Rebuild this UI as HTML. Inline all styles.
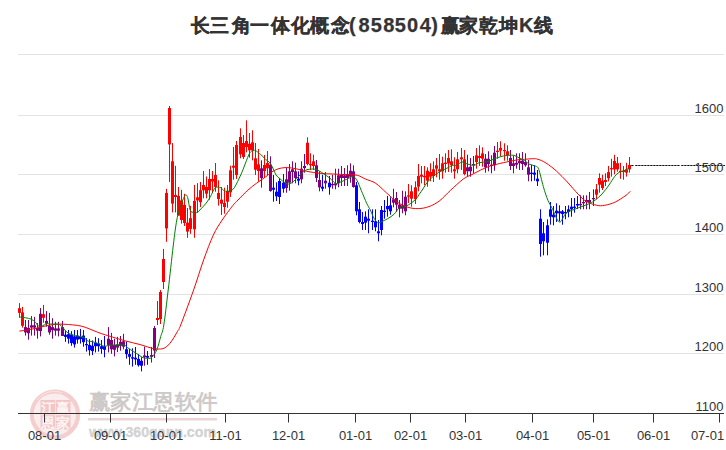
<!DOCTYPE html>
<html><head><meta charset="utf-8"><style>
html,body{margin:0;padding:0;background:#fff;width:726px;height:450px;overflow:hidden;position:relative;font-family:"Liberation Sans",sans-serif}
.tg{position:absolute;top:12.5px;line-height:26px;font-weight:bold;color:#333;white-space:nowrap}.c{font-size:19px;-webkit-text-stroke:0.3px #333}.l{font-size:20px;top:11.6px;-webkit-text-stroke:0.25px #333}
</style></head><body>
<svg width="726" height="450" viewBox="0 0 726 450" style="position:absolute;left:0;top:0"><rect x="18" y="54" width="706" height="1" fill="#e3e3e3"/><rect x="18" y="115" width="706" height="1" fill="#e3e3e3"/><rect x="18" y="174" width="706" height="1" fill="#e3e3e3"/><rect x="18" y="234" width="706" height="1" fill="#e3e3e3"/><rect x="18" y="294" width="706" height="1" fill="#e3e3e3"/><rect x="18" y="353" width="706" height="1" fill="#e3e3e3"/><g>
<circle cx="55" cy="414.5" r="25" fill="#fbeded"/>
<circle cx="55" cy="414.5" r="23" fill="none" stroke="#f4cdcd" stroke-width="4.2"/>
<path d="M37,400 A22,22 0 0 1 62,392.5" fill="none" stroke="#fbeaea" stroke-width="0.8"/>
<path d="M35,420 A20.5,20.5 0 0 1 45,396" fill="none" stroke="#fdf3f3" stroke-width="0.8"/>
<rect x="40.5" y="400" width="30" height="29.5" fill="#f1c6c6"/>
<rect x="55" y="400" width="1" height="29.5" fill="#f8e2e2"/>
<rect x="40.5" y="414.3" width="30" height="1" fill="#f8e2e2"/>
<g font-family="Liberation Sans, sans-serif" font-weight="bold" font-size="14" fill="#fdf3f3" text-anchor="middle">
<text x="47.8" y="412.5">江</text><text x="63" y="412.5">赢</text>
<text x="47.8" y="427.8">恩</text><text x="63" y="427.8">家</text></g>
<text x="88.5" y="409" font-size="21" font-weight="normal" fill="#cdc8c8" stroke="#cdc8c8" stroke-width="0.7" font-family="Liberation Sans, sans-serif" textLength="129" lengthAdjust="spacingAndGlyphs">赢家江恩软件</text>
<rect x="88" y="418" width="129" height="2.5" fill="#ecd4d4"/>
<text x="89" y="436.5" font-size="15.5" font-weight="bold" fill="#d2d2d2" stroke="#d2d2d2" stroke-width="0.3" font-family="Liberation Sans, sans-serif" textLength="127" lengthAdjust="spacingAndGlyphs">www.360gann.com</text>
</g><rect x="19" y="303.1" width="1" height="14.7" fill="#ff0000"/><rect x="18" y="308.2" width="3" height="4.7" fill="#ff0000"/><rect x="22" y="306.9" width="1" height="20.7" fill="#ff0000"/><rect x="21" y="312.3" width="3" height="13.5" fill="#ff0000"/><rect x="25" y="320.0" width="1" height="15.6" fill="#800080"/><rect x="24" y="327.1" width="3" height="5.3" fill="#800080"/><rect x="28" y="320.0" width="1" height="19.7" fill="#800080"/><rect x="27" y="328.0" width="3" height="5.3" fill="#800080"/><rect x="31" y="316.0" width="1" height="19.6" fill="#800080"/><rect x="30" y="325.3" width="3" height="2.3" fill="#800080"/><rect x="34" y="316.9" width="1" height="18.7" fill="#800080"/><rect x="33" y="325.3" width="3" height="2.3" fill="#800080"/><rect x="37" y="323.1" width="1" height="15.6" fill="#800080"/><rect x="36" y="328.0" width="3" height="2.7" fill="#800080"/><rect x="40" y="308.0" width="1" height="28.4" fill="#800080"/><rect x="39" y="313.8" width="3" height="17.3" fill="#800080"/><rect x="43" y="304.9" width="1" height="17.8" fill="#ff0000"/><rect x="42" y="314.2" width="3" height="3.6" fill="#ff0000"/><rect x="46" y="311.1" width="1" height="15.6" fill="#800080"/><rect x="45" y="320.9" width="3" height="2.7" fill="#800080"/><rect x="49" y="312.9" width="1" height="21.8" fill="#800080"/><rect x="48" y="325.8" width="3" height="6.6" fill="#800080"/><rect x="52" y="318.2" width="1" height="20.5" fill="#800080"/><rect x="51" y="327.1" width="3" height="3.1" fill="#800080"/><rect x="55" y="321.8" width="1" height="13.8" fill="#800080"/><rect x="54" y="328.4" width="3" height="2.3" fill="#800080"/><rect x="58" y="321.8" width="1" height="14.6" fill="#800080"/><rect x="57" y="328.4" width="3" height="2.3" fill="#800080"/><rect x="62" y="320.9" width="1" height="15.1" fill="#800080"/><rect x="61" y="327.1" width="3" height="8.9" fill="#800080"/><rect x="65" y="330.7" width="1" height="11.1" fill="#0000ff"/><rect x="64" y="334.7" width="3" height="2.2" fill="#0000ff"/><rect x="68" y="330.0" width="1" height="13.6" fill="#0000ff"/><rect x="67" y="334.2" width="3" height="4.5" fill="#0000ff"/><rect x="71" y="331.1" width="1" height="14.7" fill="#0000ff"/><rect x="70" y="334.7" width="3" height="8.4" fill="#0000ff"/><rect x="74" y="330.0" width="1" height="17.6" fill="#0000ff"/><rect x="73" y="336.4" width="3" height="8.0" fill="#0000ff"/><rect x="77" y="330.0" width="1" height="13.6" fill="#0000ff"/><rect x="76" y="335.6" width="3" height="4.0" fill="#0000ff"/><rect x="80" y="328.9" width="1" height="14.7" fill="#0000ff"/><rect x="79" y="336.9" width="3" height="2.2" fill="#0000ff"/><rect x="83" y="330.0" width="1" height="16.7" fill="#0000ff"/><rect x="82" y="335.6" width="3" height="6.6" fill="#0000ff"/><rect x="86" y="338.2" width="1" height="13.4" fill="#0000ff"/><rect x="85" y="344.0" width="3" height="1.3" fill="#0000ff"/><rect x="89" y="339.1" width="1" height="16.5" fill="#0000ff"/><rect x="88" y="344.9" width="3" height="5.3" fill="#0000ff"/><rect x="92" y="340.4" width="1" height="14.7" fill="#0000ff"/><rect x="91" y="345.8" width="3" height="5.3" fill="#0000ff"/><rect x="95" y="336.9" width="1" height="15.5" fill="#0000ff"/><rect x="94" y="342.7" width="3" height="3.5" fill="#0000ff"/><rect x="98" y="338.2" width="1" height="13.4" fill="#0000ff"/><rect x="97" y="343.6" width="3" height="2.6" fill="#0000ff"/><rect x="101" y="340.0" width="1" height="13.8" fill="#0000ff"/><rect x="100" y="346.2" width="3" height="2.7" fill="#0000ff"/><rect x="104" y="336.0" width="1" height="21.3" fill="#0000ff"/><rect x="103" y="346.2" width="3" height="3.6" fill="#0000ff"/><rect x="108" y="327.1" width="1" height="25.3" fill="#800080"/><rect x="107" y="338.7" width="3" height="6.2" fill="#800080"/><rect x="111" y="332.9" width="1" height="20.9" fill="#800080"/><rect x="110" y="340.0" width="3" height="9.3" fill="#800080"/><rect x="114" y="338.7" width="1" height="17.7" fill="#800080"/><rect x="113" y="344.9" width="3" height="4.9" fill="#800080"/><rect x="117" y="336.9" width="1" height="15.1" fill="#800080"/><rect x="116" y="344.4" width="3" height="3.2" fill="#800080"/><rect x="120" y="336.0" width="1" height="14.7" fill="#800080"/><rect x="119" y="341.8" width="3" height="4.0" fill="#800080"/><rect x="123" y="333.8" width="1" height="15.5" fill="#800080"/><rect x="122" y="341.3" width="3" height="5.4" fill="#800080"/><rect x="126" y="341.7" width="1" height="16.9" fill="#0000ff"/><rect x="125" y="349.2" width="3" height="4.9" fill="#0000ff"/><rect x="129" y="348.8" width="1" height="16.0" fill="#0000ff"/><rect x="128" y="354.1" width="3" height="2.7" fill="#0000ff"/><rect x="132" y="348.3" width="1" height="18.3" fill="#0000ff"/><rect x="131" y="357.2" width="3" height="1.4" fill="#0000ff"/><rect x="135" y="347.0" width="1" height="17.8" fill="#0000ff"/><rect x="134" y="357.7" width="3" height="1.7" fill="#0000ff"/><rect x="138" y="354.1" width="1" height="12.5" fill="#0000ff"/><rect x="137" y="359.0" width="3" height="6.2" fill="#0000ff"/><rect x="141" y="357.2" width="1" height="14.2" fill="#0000ff"/><rect x="140" y="360.8" width="3" height="4.9" fill="#0000ff"/><rect x="144" y="346.6" width="1" height="19.1" fill="#800080"/><rect x="143" y="355.4" width="3" height="1.8" fill="#800080"/><rect x="147" y="351.0" width="1" height="13.8" fill="#0000ff"/><rect x="146" y="355.9" width="3" height="1.8" fill="#0000ff"/><rect x="151" y="347.0" width="1" height="15.6" fill="#800080"/><rect x="150" y="355.0" width="3" height="1.8" fill="#800080"/><rect x="154" y="326.0" width="1" height="32.0" fill="#800080"/><rect x="153" y="328.0" width="3" height="22.6" fill="#800080"/><rect x="157" y="301.0" width="1" height="24.0" fill="#ff0000"/><rect x="156" y="318.0" width="3" height="2.0" fill="#ff0000"/><rect x="160" y="290.0" width="1" height="34.0" fill="#ff0000"/><rect x="159" y="292.0" width="3" height="27.0" fill="#ff0000"/><rect x="163" y="248.9" width="1" height="40.1" fill="#ff0000"/><rect x="162" y="259.0" width="3" height="23.0" fill="#ff0000"/><rect x="166" y="188.9" width="1" height="52.9" fill="#ff0000"/><rect x="165" y="192.9" width="3" height="35.5" fill="#ff0000"/><rect x="169" y="106.0" width="1" height="76.0" fill="#ff0000"/><rect x="168" y="108.0" width="3" height="36.4" fill="#ff0000"/><rect x="172" y="143.1" width="1" height="69.3" fill="#ff0000"/><rect x="171" y="161.3" width="3" height="42.3" fill="#ff0000"/><rect x="175" y="165.8" width="1" height="46.6" fill="#ff0000"/><rect x="174" y="195.0" width="3" height="2.0" fill="#ff0000"/><rect x="178" y="187.0" width="1" height="28.6" fill="#ff0000"/><rect x="177" y="196.0" width="3" height="19.6" fill="#ff0000"/><rect x="181" y="189.8" width="1" height="33.8" fill="#ff0000"/><rect x="180" y="200.4" width="3" height="19.6" fill="#ff0000"/><rect x="184" y="193.8" width="1" height="32.2" fill="#ff0000"/><rect x="183" y="205.0" width="3" height="18.0" fill="#ff0000"/><rect x="187" y="208.0" width="1" height="29.8" fill="#ff0000"/><rect x="186" y="222.7" width="3" height="8.9" fill="#ff0000"/><rect x="190" y="205.8" width="1" height="28.0" fill="#ff0000"/><rect x="189" y="218.2" width="3" height="10.7" fill="#ff0000"/><rect x="194" y="184.9" width="1" height="52.9" fill="#ff0000"/><rect x="193" y="200.9" width="3" height="28.4" fill="#ff0000"/><rect x="197" y="183.1" width="1" height="29.8" fill="#ff0000"/><rect x="196" y="197.3" width="3" height="3.1" fill="#ff0000"/><rect x="200" y="182.0" width="1" height="25.1" fill="#ff0000"/><rect x="199" y="190.2" width="3" height="12.0" fill="#ff0000"/><rect x="203" y="171.0" width="1" height="27.3" fill="#ff0000"/><rect x="202" y="185.0" width="3" height="5.3" fill="#ff0000"/><rect x="206" y="176.5" width="1" height="21.8" fill="#ff0000"/><rect x="205" y="187.0" width="3" height="6.7" fill="#ff0000"/><rect x="209" y="169.0" width="1" height="30.7" fill="#ff0000"/><rect x="208" y="179.0" width="3" height="11.3" fill="#ff0000"/><rect x="212" y="171.0" width="1" height="22.0" fill="#ff0000"/><rect x="211" y="179.0" width="3" height="2.5" fill="#ff0000"/><rect x="215" y="163.0" width="1" height="28.7" fill="#ff0000"/><rect x="214" y="175.0" width="3" height="12.0" fill="#ff0000"/><rect x="218" y="180.3" width="1" height="25.4" fill="#ff0000"/><rect x="217" y="193.0" width="3" height="6.0" fill="#ff0000"/><rect x="221" y="187.0" width="1" height="28.0" fill="#ff0000"/><rect x="220" y="199.7" width="3" height="4.0" fill="#ff0000"/><rect x="224" y="187.7" width="1" height="26.0" fill="#ff0000"/><rect x="223" y="203.0" width="3" height="4.0" fill="#ff0000"/><rect x="227" y="185.0" width="1" height="22.7" fill="#ff0000"/><rect x="226" y="191.0" width="3" height="10.7" fill="#ff0000"/><rect x="230" y="165.7" width="1" height="31.3" fill="#ff0000"/><rect x="229" y="170.3" width="3" height="22.0" fill="#ff0000"/><rect x="233" y="147.0" width="1" height="32.7" fill="#ff0000"/><rect x="232" y="165.7" width="3" height="2.0" fill="#ff0000"/><rect x="236" y="141.0" width="1" height="38.0" fill="#ff0000"/><rect x="235" y="145.0" width="3" height="30.0" fill="#ff0000"/><rect x="240" y="128.3" width="1" height="30.0" fill="#ff0000"/><rect x="239" y="137.0" width="3" height="17.3" fill="#ff0000"/><rect x="243" y="135.0" width="1" height="24.0" fill="#ff0000"/><rect x="242" y="143.0" width="3" height="14.0" fill="#ff0000"/><rect x="246" y="120.3" width="1" height="32.0" fill="#ff0000"/><rect x="245" y="141.0" width="3" height="6.0" fill="#ff0000"/><rect x="249" y="133.0" width="1" height="24.7" fill="#ff0000"/><rect x="248" y="143.7" width="3" height="6.6" fill="#ff0000"/><rect x="252" y="130.3" width="1" height="30.0" fill="#ff0000"/><rect x="251" y="142.3" width="3" height="8.0" fill="#ff0000"/><rect x="255" y="143.0" width="1" height="32.0" fill="#ff0000"/><rect x="254" y="158.3" width="3" height="11.4" fill="#ff0000"/><rect x="258" y="149.0" width="1" height="32.7" fill="#ff0000"/><rect x="257" y="164.3" width="3" height="6.7" fill="#ff0000"/><rect x="261" y="160.3" width="1" height="27.4" fill="#800080"/><rect x="260" y="168.3" width="3" height="9.7" fill="#800080"/><rect x="264" y="155.0" width="1" height="23.0" fill="#ff0000"/><rect x="263" y="165.0" width="3" height="6.0" fill="#ff0000"/><rect x="267" y="151.0" width="1" height="24.0" fill="#ff0000"/><rect x="266" y="163.0" width="3" height="5.3" fill="#ff0000"/><rect x="270" y="156.3" width="1" height="35.4" fill="#800080"/><rect x="269" y="164.7" width="3" height="26.3" fill="#800080"/><rect x="273" y="175.0" width="1" height="26.7" fill="#0000ff"/><rect x="272" y="187.7" width="3" height="2.0" fill="#0000ff"/><rect x="276" y="182.3" width="1" height="18.7" fill="#0000ff"/><rect x="275" y="191.7" width="3" height="4.6" fill="#0000ff"/><rect x="279" y="178.0" width="1" height="26.0" fill="#0000ff"/><rect x="278" y="181.0" width="3" height="16.0" fill="#0000ff"/><rect x="283" y="174.0" width="1" height="18.7" fill="#0000ff"/><rect x="282" y="182.7" width="3" height="6.0" fill="#0000ff"/><rect x="286" y="167.3" width="1" height="25.4" fill="#800080"/><rect x="285" y="179.3" width="3" height="8.7" fill="#800080"/><rect x="289" y="164.0" width="1" height="26.7" fill="#800080"/><rect x="288" y="171.3" width="3" height="11.4" fill="#800080"/><rect x="292" y="161.3" width="1" height="22.0" fill="#800080"/><rect x="291" y="169.3" width="3" height="2.7" fill="#800080"/><rect x="295" y="162.7" width="1" height="20.6" fill="#800080"/><rect x="294" y="171.3" width="3" height="6.7" fill="#800080"/><rect x="298" y="171.3" width="1" height="14.0" fill="#0000ff"/><rect x="297" y="178.7" width="3" height="2.0" fill="#0000ff"/><rect x="301" y="161.3" width="1" height="22.0" fill="#800080"/><rect x="300" y="168.7" width="3" height="10.6" fill="#800080"/><rect x="304" y="154.0" width="1" height="18.7" fill="#800080"/><rect x="303" y="166.0" width="3" height="2.0" fill="#800080"/><rect x="307" y="137.3" width="1" height="28.0" fill="#ff0000"/><rect x="306" y="142.7" width="3" height="21.3" fill="#ff0000"/><rect x="310" y="153.3" width="1" height="16.7" fill="#ff0000"/><rect x="309" y="164.0" width="3" height="1.3" fill="#ff0000"/><rect x="313" y="154.7" width="1" height="15.3" fill="#ff0000"/><rect x="312" y="161.3" width="3" height="4.7" fill="#ff0000"/><rect x="316" y="160.0" width="1" height="22.0" fill="#800080"/><rect x="315" y="165.3" width="3" height="12.7" fill="#800080"/><rect x="319" y="171.3" width="1" height="20.0" fill="#800080"/><rect x="318" y="180.0" width="3" height="7.3" fill="#800080"/><rect x="322" y="174.7" width="1" height="16.6" fill="#0000ff"/><rect x="321" y="186.7" width="3" height="2.0" fill="#0000ff"/><rect x="325" y="172.0" width="1" height="16.7" fill="#800080"/><rect x="324" y="180.7" width="3" height="2.6" fill="#800080"/><rect x="329" y="176.0" width="1" height="18.7" fill="#0000ff"/><rect x="328" y="182.7" width="3" height="4.6" fill="#0000ff"/><rect x="332" y="174.7" width="1" height="14.0" fill="#800080"/><rect x="331" y="184.0" width="3" height="1.3" fill="#800080"/><rect x="335" y="168.7" width="1" height="20.6" fill="#800080"/><rect x="334" y="183.3" width="3" height="2.0" fill="#800080"/><rect x="338" y="168.7" width="1" height="18.6" fill="#800080"/><rect x="337" y="175.3" width="3" height="8.0" fill="#800080"/><rect x="341" y="166.0" width="1" height="20.0" fill="#800080"/><rect x="340" y="174.7" width="3" height="3.3" fill="#800080"/><rect x="344" y="168.0" width="1" height="18.0" fill="#800080"/><rect x="343" y="175.3" width="3" height="2.7" fill="#800080"/><rect x="347" y="165.3" width="1" height="20.7" fill="#800080"/><rect x="346" y="174.0" width="3" height="4.0" fill="#800080"/><rect x="350" y="163.3" width="1" height="19.4" fill="#800080"/><rect x="349" y="170.7" width="3" height="6.0" fill="#800080"/><rect x="353" y="165.3" width="1" height="22.4" fill="#800080"/><rect x="352" y="171.3" width="3" height="15.7" fill="#800080"/><rect x="356" y="182.0" width="1" height="33.3" fill="#0000ff"/><rect x="355" y="185.3" width="3" height="26.0" fill="#0000ff"/><rect x="359" y="202.0" width="1" height="21.3" fill="#0000ff"/><rect x="358" y="209.3" width="3" height="12.7" fill="#0000ff"/><rect x="362" y="212.0" width="1" height="18.0" fill="#0000ff"/><rect x="361" y="222.0" width="3" height="2.0" fill="#0000ff"/><rect x="365" y="211.3" width="1" height="18.7" fill="#0000ff"/><rect x="364" y="216.7" width="3" height="6.0" fill="#0000ff"/><rect x="368" y="209.3" width="1" height="24.0" fill="#0000ff"/><rect x="367" y="218.7" width="3" height="2.0" fill="#0000ff"/><rect x="372" y="209.3" width="1" height="20.7" fill="#0000ff"/><rect x="371" y="220.7" width="3" height="1.3" fill="#0000ff"/><rect x="375" y="209.3" width="1" height="22.0" fill="#0000ff"/><rect x="374" y="221.3" width="3" height="6.0" fill="#0000ff"/><rect x="378" y="220.0" width="1" height="21.3" fill="#0000ff"/><rect x="377" y="231.3" width="3" height="2.0" fill="#0000ff"/><rect x="381" y="206.0" width="1" height="29.3" fill="#0000ff"/><rect x="380" y="210.0" width="3" height="20.0" fill="#0000ff"/><rect x="384" y="200.0" width="1" height="18.7" fill="#0000ff"/><rect x="383" y="210.7" width="3" height="1.3" fill="#0000ff"/><rect x="387" y="196.0" width="1" height="20.7" fill="#0000ff"/><rect x="386" y="206.0" width="3" height="3.3" fill="#0000ff"/><rect x="390" y="197.3" width="1" height="17.4" fill="#0000ff"/><rect x="389" y="205.3" width="3" height="6.0" fill="#0000ff"/><rect x="393" y="188.7" width="1" height="18.6" fill="#800080"/><rect x="392" y="199.3" width="3" height="3.4" fill="#800080"/><rect x="396" y="192.0" width="1" height="20.0" fill="#800080"/><rect x="395" y="198.0" width="3" height="6.7" fill="#800080"/><rect x="399" y="200.0" width="1" height="17.3" fill="#800080"/><rect x="398" y="204.7" width="3" height="4.0" fill="#800080"/><rect x="402" y="190.7" width="1" height="22.6" fill="#800080"/><rect x="401" y="205.3" width="3" height="3.4" fill="#800080"/><rect x="405" y="191.3" width="1" height="24.0" fill="#800080"/><rect x="404" y="196.7" width="3" height="14.6" fill="#800080"/><rect x="408" y="184.0" width="1" height="19.0" fill="#ff0000"/><rect x="407" y="195.3" width="3" height="1.4" fill="#ff0000"/><rect x="411" y="185.3" width="1" height="21.4" fill="#ff0000"/><rect x="410" y="191.3" width="3" height="7.4" fill="#ff0000"/><rect x="415" y="181.3" width="1" height="22.7" fill="#ff0000"/><rect x="414" y="187.3" width="3" height="12.0" fill="#ff0000"/><rect x="418" y="164.0" width="1" height="27.3" fill="#ff0000"/><rect x="417" y="176.0" width="3" height="10.7" fill="#ff0000"/><rect x="421" y="166.0" width="1" height="17.3" fill="#ff0000"/><rect x="420" y="174.7" width="3" height="2.0" fill="#ff0000"/><rect x="424" y="166.0" width="1" height="19.3" fill="#ff0000"/><rect x="423" y="176.0" width="3" height="1.3" fill="#ff0000"/><rect x="427" y="167.3" width="1" height="19.4" fill="#ff0000"/><rect x="426" y="170.7" width="3" height="10.0" fill="#ff0000"/><rect x="430" y="163.3" width="1" height="18.0" fill="#ff0000"/><rect x="429" y="172.0" width="3" height="4.7" fill="#ff0000"/><rect x="433" y="161.3" width="1" height="20.7" fill="#ff0000"/><rect x="432" y="169.3" width="3" height="6.7" fill="#ff0000"/><rect x="436" y="158.0" width="1" height="19.3" fill="#ff0000"/><rect x="435" y="165.3" width="3" height="3.4" fill="#ff0000"/><rect x="439" y="154.0" width="1" height="25.7" fill="#ff0000"/><rect x="438" y="169.3" width="3" height="2.0" fill="#ff0000"/><rect x="442" y="156.7" width="1" height="22.0" fill="#ff0000"/><rect x="441" y="163.3" width="3" height="8.0" fill="#ff0000"/><rect x="445" y="153.3" width="1" height="19.4" fill="#ff0000"/><rect x="444" y="162.7" width="3" height="1.3" fill="#ff0000"/><rect x="448" y="150.0" width="1" height="22.0" fill="#ff0000"/><rect x="447" y="158.0" width="3" height="5.3" fill="#ff0000"/><rect x="451" y="149.3" width="1" height="23.4" fill="#ff0000"/><rect x="450" y="161.3" width="3" height="4.0" fill="#ff0000"/><rect x="454" y="157.3" width="1" height="21.4" fill="#ff0000"/><rect x="453" y="169.3" width="3" height="2.0" fill="#ff0000"/><rect x="457" y="152.0" width="1" height="21.3" fill="#ff0000"/><rect x="456" y="159.3" width="3" height="10.0" fill="#ff0000"/><rect x="461" y="148.0" width="1" height="22.0" fill="#ff0000"/><rect x="460" y="157.3" width="3" height="2.0" fill="#ff0000"/><rect x="464" y="150.0" width="1" height="25.3" fill="#ff0000"/><rect x="463" y="159.3" width="3" height="14.7" fill="#ff0000"/><rect x="467" y="154.7" width="1" height="22.0" fill="#800080"/><rect x="466" y="167.3" width="3" height="4.0" fill="#800080"/><rect x="470" y="158.0" width="1" height="18.7" fill="#800080"/><rect x="469" y="166.7" width="3" height="4.6" fill="#800080"/><rect x="473" y="156.0" width="1" height="17.3" fill="#800080"/><rect x="472" y="164.0" width="3" height="1.3" fill="#800080"/><rect x="476" y="148.0" width="1" height="20.7" fill="#ff0000"/><rect x="475" y="155.3" width="3" height="6.7" fill="#ff0000"/><rect x="479" y="145.3" width="1" height="20.7" fill="#ff0000"/><rect x="478" y="156.0" width="3" height="2.0" fill="#ff0000"/><rect x="482" y="147.3" width="1" height="19.4" fill="#ff0000"/><rect x="481" y="153.3" width="3" height="5.4" fill="#ff0000"/><rect x="485" y="154.0" width="1" height="18.7" fill="#800080"/><rect x="484" y="158.7" width="3" height="8.6" fill="#800080"/><rect x="488" y="151.3" width="1" height="20.0" fill="#800080"/><rect x="487" y="158.7" width="3" height="5.3" fill="#800080"/><rect x="491" y="155.3" width="1" height="18.0" fill="#800080"/><rect x="490" y="164.7" width="3" height="1.3" fill="#800080"/><rect x="494" y="146.0" width="1" height="24.7" fill="#800080"/><rect x="493" y="152.7" width="3" height="12.6" fill="#800080"/><rect x="497" y="142.0" width="1" height="16.7" fill="#ff0000"/><rect x="496" y="150.7" width="3" height="1.3" fill="#ff0000"/><rect x="500" y="141.3" width="1" height="14.7" fill="#ff0000"/><rect x="499" y="148.0" width="3" height="2.7" fill="#ff0000"/><rect x="504" y="143.3" width="1" height="17.4" fill="#ff0000"/><rect x="503" y="150.0" width="3" height="1.2" fill="#ff0000"/><rect x="507" y="145.3" width="1" height="15.4" fill="#ff0000"/><rect x="506" y="151.3" width="3" height="4.0" fill="#ff0000"/><rect x="510" y="150.0" width="1" height="20.0" fill="#800080"/><rect x="509" y="158.0" width="3" height="8.0" fill="#800080"/><rect x="513" y="156.0" width="1" height="17.3" fill="#800080"/><rect x="512" y="163.3" width="3" height="2.7" fill="#800080"/><rect x="516" y="153.3" width="1" height="15.4" fill="#800080"/><rect x="515" y="162.7" width="3" height="2.0" fill="#800080"/><rect x="519" y="153.3" width="1" height="16.7" fill="#800080"/><rect x="518" y="160.7" width="3" height="2.6" fill="#800080"/><rect x="522" y="152.0" width="1" height="18.0" fill="#800080"/><rect x="521" y="160.7" width="3" height="3.3" fill="#800080"/><rect x="525" y="153.3" width="1" height="13.4" fill="#800080"/><rect x="524" y="162.0" width="3" height="3.3" fill="#800080"/><rect x="528" y="160.0" width="1" height="21.3" fill="#800080"/><rect x="527" y="167.3" width="3" height="7.4" fill="#800080"/><rect x="531" y="164.7" width="1" height="16.6" fill="#0000ff"/><rect x="530" y="172.7" width="3" height="1.3" fill="#0000ff"/><rect x="534" y="165.3" width="1" height="15.4" fill="#0000ff"/><rect x="533" y="172.7" width="3" height="2.0" fill="#0000ff"/><rect x="537" y="170.0" width="1" height="16.0" fill="#0000ff"/><rect x="536" y="178.7" width="3" height="2.6" fill="#0000ff"/><rect x="540" y="209.3" width="1" height="47.4" fill="#0000ff"/><rect x="539" y="218.7" width="3" height="25.3" fill="#0000ff"/><rect x="543" y="222.0" width="1" height="33.3" fill="#0000ff"/><rect x="542" y="233.3" width="3" height="8.0" fill="#0000ff"/><rect x="547" y="219.3" width="1" height="36.0" fill="#0000ff"/><rect x="546" y="225.3" width="3" height="17.4" fill="#0000ff"/><rect x="550" y="202.0" width="1" height="22.7" fill="#0000ff"/><rect x="549" y="209.3" width="3" height="7.4" fill="#0000ff"/><rect x="553" y="206.0" width="1" height="19.3" fill="#0000ff"/><rect x="552" y="214.7" width="3" height="2.6" fill="#0000ff"/><rect x="556" y="203.3" width="1" height="18.7" fill="#0000ff"/><rect x="555" y="210.7" width="3" height="2.6" fill="#0000ff"/><rect x="559" y="205.3" width="1" height="16.0" fill="#0000ff"/><rect x="558" y="211.3" width="3" height="2.0" fill="#0000ff"/><rect x="562" y="210.0" width="1" height="14.7" fill="#0000ff"/><rect x="561" y="211.3" width="3" height="2.7" fill="#0000ff"/><rect x="565" y="206.0" width="1" height="13.3" fill="#0000ff"/><rect x="564" y="212.0" width="3" height="1.3" fill="#0000ff"/><rect x="568" y="205.3" width="1" height="12.0" fill="#0000ff"/><rect x="567" y="209.3" width="3" height="2.7" fill="#0000ff"/><rect x="571" y="198.0" width="1" height="18.7" fill="#0000ff"/><rect x="570" y="206.7" width="3" height="2.6" fill="#0000ff"/><rect x="574" y="198.0" width="1" height="14.7" fill="#0000ff"/><rect x="573" y="206.7" width="3" height="1.2" fill="#0000ff"/><rect x="577" y="196.0" width="1" height="13.0" fill="#0000ff"/><rect x="576" y="204.0" width="3" height="1.5" fill="#0000ff"/><rect x="580" y="195.3" width="1" height="14.0" fill="#800080"/><rect x="579" y="204.0" width="3" height="1.3" fill="#800080"/><rect x="583" y="195.3" width="1" height="14.0" fill="#800080"/><rect x="582" y="202.0" width="3" height="1.3" fill="#800080"/><rect x="586" y="195.3" width="1" height="14.0" fill="#800080"/><rect x="585" y="200.0" width="3" height="2.0" fill="#800080"/><rect x="589" y="192.0" width="1" height="17.3" fill="#800080"/><rect x="588" y="200.0" width="3" height="2.7" fill="#800080"/><rect x="593" y="189.3" width="1" height="16.7" fill="#800080"/><rect x="592" y="198.0" width="3" height="1.3" fill="#800080"/><rect x="596" y="184.0" width="1" height="15.3" fill="#ff0000"/><rect x="595" y="189.3" width="3" height="5.4" fill="#ff0000"/><rect x="599" y="173.3" width="1" height="19.4" fill="#ff0000"/><rect x="598" y="178.0" width="3" height="6.7" fill="#ff0000"/><rect x="602" y="174.7" width="1" height="15.3" fill="#ff0000"/><rect x="601" y="180.7" width="3" height="7.3" fill="#ff0000"/><rect x="605" y="173.3" width="1" height="12.7" fill="#ff0000"/><rect x="604" y="180.0" width="3" height="2.0" fill="#ff0000"/><rect x="608" y="165.9" width="1" height="15.5" fill="#ff0000"/><rect x="607" y="172.1" width="3" height="6.2" fill="#ff0000"/><rect x="611" y="158.8" width="1" height="17.8" fill="#ff0000"/><rect x="610" y="168.1" width="3" height="1.3" fill="#ff0000"/><rect x="614" y="154.8" width="1" height="19.5" fill="#ff0000"/><rect x="613" y="161.0" width="3" height="8.4" fill="#ff0000"/><rect x="617" y="157.0" width="1" height="14.7" fill="#ff0000"/><rect x="616" y="163.2" width="3" height="6.2" fill="#ff0000"/><rect x="620" y="162.8" width="1" height="16.0" fill="#ff0000"/><rect x="619" y="170.8" width="3" height="1.2" fill="#ff0000"/><rect x="623" y="165.9" width="1" height="13.8" fill="#ff0000"/><rect x="622" y="170.8" width="3" height="1.3" fill="#ff0000"/><rect x="626" y="162.8" width="1" height="13.8" fill="#ff0000"/><rect x="625" y="169.4" width="3" height="3.2" fill="#ff0000"/><rect x="629" y="157.0" width="1" height="15.6" fill="#ff0000"/><rect x="628" y="165.0" width="3" height="4.4" fill="#ff0000"/><path d="M19.4,331.1 C20.9,330.9 25.3,330.3 28.3,329.8 C31.3,329.3 34.2,328.7 37.2,328.0 C40.2,327.3 43.1,326.4 46.1,325.8 C49.1,325.2 52.0,324.7 55.0,324.4 C58.0,324.1 60.9,324.1 63.9,324.2 C66.9,324.3 69.8,324.6 72.8,324.9 C75.8,325.2 78.9,325.5 81.7,326.2 C84.5,326.9 87.0,328.0 89.7,329.0 C92.4,330.0 95.0,331.3 97.7,332.3 C100.4,333.3 103.3,334.2 105.7,335.0 C108.1,335.8 109.0,336.0 112.3,337.0 C115.6,338.0 121.2,339.8 125.7,341.0 C130.2,342.2 134.9,343.2 139.0,344.3 C143.1,345.4 147.3,346.9 150.0,347.7 C152.7,348.4 153.5,348.6 155.3,348.8 C157.1,349.0 159.1,349.2 160.7,349.0 C162.3,348.8 163.6,348.6 165.1,347.7 C166.6,346.8 168.1,345.4 169.6,343.7 C171.1,342.0 172.7,339.5 174.0,337.4 C175.3,335.3 176.5,333.3 177.6,331.2 C178.7,329.1 178.0,331.9 180.7,325.0 C183.4,318.1 189.8,300.8 193.6,290.0 C197.4,279.2 200.3,269.1 203.6,260.0 C206.9,250.8 210.2,241.8 213.3,235.1 C216.4,228.4 219.0,224.9 222.2,220.0 C225.4,215.1 230.1,209.0 232.7,205.7 C235.3,202.4 235.5,202.6 238.0,200.0 C240.5,197.4 244.7,193.0 247.8,190.2 C250.9,187.4 253.7,185.3 256.7,183.1 C259.7,180.9 263.1,178.8 265.6,176.9 C268.1,175.1 269.7,173.3 271.8,172.0 C273.9,170.7 275.8,169.6 278.0,168.9 C280.2,168.2 282.4,167.7 285.1,167.6 C287.8,167.5 290.4,167.8 294.0,168.4 C297.6,169.0 302.4,170.5 306.7,171.3 C311.0,172.1 315.6,172.9 320.0,173.3 C324.4,173.8 328.9,173.8 333.3,174.0 C337.8,174.2 342.7,174.5 346.7,174.7 C350.7,174.9 354.2,174.6 357.3,175.3 C360.4,176.0 362.2,177.7 365.3,179.0 C368.4,180.3 372.2,181.0 375.7,183.3 C379.2,185.6 382.8,189.6 386.3,192.7 C389.9,195.8 393.4,199.6 397.0,202.0 C400.6,204.4 404.1,206.1 407.7,207.2 C411.2,208.3 414.8,208.7 418.3,208.6 C421.9,208.5 425.4,207.9 429.0,206.6 C432.6,205.3 436.1,203.4 439.7,200.7 C443.2,198.0 446.4,194.1 450.3,190.5 C454.2,186.9 459.7,181.7 463.3,179.0 C466.9,176.3 469.1,176.0 472.0,174.5 C474.9,173.0 477.7,171.4 480.7,170.0 C483.7,168.6 487.4,166.9 490.0,166.0 C492.6,165.1 493.8,165.1 496.0,164.5 C498.2,163.9 499.9,163.4 503.3,162.7 C506.8,161.9 513.1,160.6 516.7,160.0 C520.3,159.4 522.0,159.5 524.7,159.3 C527.4,159.1 530.5,158.7 532.7,158.7 C534.9,158.7 535.8,158.6 538.0,159.3 C540.2,160.0 542.9,161.0 546.0,163.0 C549.1,165.0 553.2,168.1 556.7,171.3 C560.2,174.5 563.8,178.2 567.3,182.0 C570.8,185.8 574.9,190.8 578.0,194.0 C581.1,197.2 582.9,199.4 586.0,201.3 C589.1,203.2 593.6,204.6 596.7,205.3 C599.8,206.0 601.6,205.9 604.7,205.3 C607.8,204.8 611.8,203.7 615.3,202.0 C618.8,200.3 623.5,197.1 626.0,195.3 C628.5,193.5 629.6,192.0 630.3,191.3" fill="none" stroke="#ff0000" stroke-width="1"/><path d="M19.4,316.9 C20.4,317.0 23.8,317.4 25.7,317.8 C27.6,318.2 29.4,318.4 31.0,319.1 C32.6,319.8 34.2,321.1 35.4,322.2 C36.6,323.3 37.2,325.1 38.1,325.8 C39.0,326.5 39.8,326.4 40.8,326.2 C41.8,326.0 43.3,325.3 44.3,324.9 C45.3,324.5 46.0,323.8 47.0,323.6 C48.0,323.5 48.8,323.9 50.6,324.0 C52.4,324.1 56.2,323.9 57.7,324.0 C59.2,324.1 58.5,323.8 59.4,324.4 C60.3,325.0 61.8,326.3 63.0,327.6 C64.2,328.9 65.1,330.8 66.6,332.0 C68.1,333.2 69.8,334.0 71.9,334.7 C74.0,335.4 76.9,335.9 79.0,336.4 C81.1,336.9 82.8,336.9 84.3,337.7 C85.8,338.5 86.4,340.3 87.7,341.0 C89.0,341.7 90.2,341.1 92.3,341.7 C94.4,342.2 98.3,343.5 100.3,344.3 C102.3,345.1 103.0,346.1 104.3,346.3 C105.6,346.5 107.0,345.7 108.3,345.5 C109.6,345.3 110.5,345.1 112.3,345.0 C114.1,344.9 117.0,345.0 119.0,345.0 C121.0,345.0 122.8,344.6 124.3,345.0 C125.8,345.4 126.1,346.6 127.7,347.7 C129.3,348.8 131.8,350.5 133.7,351.7 C135.6,352.9 137.4,354.0 139.0,355.0 C140.6,356.0 141.2,357.1 143.0,357.7 C144.8,358.2 148.2,358.7 150.0,358.3 C151.8,357.9 152.4,356.8 153.6,355.2 C154.8,353.6 155.9,352.1 157.1,349.0 C158.3,345.9 159.6,340.6 160.7,336.6 C161.8,332.6 162.6,332.8 163.8,325.0 C165.1,317.2 166.6,303.2 168.2,290.0 C169.8,276.8 171.8,257.7 173.2,246.0 C174.6,234.3 175.6,226.6 176.8,220.0 C178.0,213.4 179.1,210.8 180.4,206.7 C181.8,202.6 183.7,197.2 184.9,195.6 C186.1,194.0 186.7,194.9 187.6,197.3 C188.5,199.7 189.2,207.7 190.2,210.2 C191.2,212.7 192.6,212.0 193.8,212.4 C195.0,212.8 196.1,213.0 197.3,212.4 C198.5,211.8 199.4,210.5 200.9,208.9 C202.4,207.3 204.6,205.2 206.2,203.1 C207.8,201.0 209.1,198.9 210.5,196.5 C211.9,194.1 213.3,190.1 214.5,188.5 C215.7,186.9 216.7,187.2 217.8,187.1 C218.9,187.0 220.2,187.3 221.3,188.0 C222.4,188.7 223.1,190.6 224.5,191.0 C225.9,191.4 228.3,191.3 230.0,190.7 C231.7,190.1 232.6,190.2 234.4,187.6 C236.2,185.0 239.1,178.4 240.7,175.0 C242.3,171.6 242.7,170.3 244.0,167.0 C245.3,163.7 247.5,157.6 248.7,155.0 C249.9,152.4 250.4,152.1 251.3,151.3 C252.2,150.5 253.1,150.3 254.0,150.3 C254.9,150.3 255.4,150.4 256.7,151.3 C258.0,152.2 260.4,154.3 262.0,155.7 C263.6,157.1 264.7,158.5 266.0,159.7 C267.3,160.9 268.8,161.4 270.0,163.0 C271.2,164.6 272.3,167.0 273.3,169.0 C274.3,171.0 274.9,173.4 276.0,175.0 C277.1,176.6 278.3,177.4 279.8,178.7 C281.3,180.0 283.6,181.8 285.1,182.7 C286.7,183.6 287.6,184.3 289.1,184.0 C290.6,183.7 291.5,183.0 294.0,180.9 C296.5,178.8 301.4,173.2 304.0,171.3 C306.6,169.4 307.3,169.6 309.3,169.3 C311.3,169.0 313.7,168.8 316.0,169.5 C318.3,170.2 321.0,172.0 323.3,173.5 C325.6,175.0 327.9,176.6 330.0,178.3 C332.1,180.0 334.3,183.0 336.0,183.7 C337.7,184.4 338.2,183.0 340.0,182.3 C341.8,181.6 344.5,180.2 346.7,179.3 C348.9,178.4 351.5,176.4 353.3,176.7 C355.1,177.0 356.0,178.7 357.3,181.0 C358.6,183.3 359.7,186.8 361.3,190.5 C362.9,194.2 365.2,200.1 366.7,203.3 C368.2,206.6 369.0,207.4 370.3,210.0 C371.6,212.6 373.0,216.6 374.3,218.7 C375.6,220.8 377.0,222.3 378.3,222.7 C379.6,223.1 380.7,222.0 382.3,221.3 C383.9,220.6 385.7,219.9 387.7,218.7 C389.7,217.5 392.3,215.9 394.3,214.0 C396.3,212.1 397.9,208.5 399.7,207.3 C401.5,206.1 403.0,207.5 405.0,206.7 C407.0,205.9 409.9,204.0 411.7,202.7 C413.5,201.4 414.7,200.4 416.0,199.0 C417.3,197.6 418.1,196.1 419.3,194.3 C420.6,192.5 422.2,190.0 423.5,188.0 C424.8,186.0 425.7,184.2 427.3,182.3 C428.9,180.4 431.2,178.1 433.3,176.3 C435.4,174.5 437.6,173.1 440.0,171.7 C442.4,170.3 445.9,168.7 448.0,167.7 C450.1,166.7 451.0,165.9 452.5,165.5 C454.0,165.1 455.4,165.9 457.0,165.3 C458.6,164.7 460.3,162.2 462.0,162.0 C463.7,161.8 465.3,163.4 467.3,164.0 C469.3,164.6 472.0,165.5 474.0,165.3 C476.0,165.1 477.5,163.2 479.3,162.7 C481.1,162.1 482.9,162.3 484.7,162.0 C486.5,161.7 488.0,161.4 490.0,160.7 C492.0,160.0 494.5,158.8 496.7,158.0 C498.9,157.2 501.3,156.4 503.3,156.0 C505.3,155.6 506.9,155.4 508.7,155.3 C510.5,155.2 512.2,154.9 514.0,155.3 C515.8,155.8 517.5,157.1 519.3,158.0 C521.1,158.9 522.9,159.6 524.7,160.7 C526.5,161.8 528.2,163.6 530.0,164.5 C531.8,165.4 533.8,165.2 535.3,166.0 C536.8,166.8 537.4,165.9 538.7,169.3 C540.0,172.7 541.8,181.3 543.3,186.5 C544.8,191.7 546.5,196.9 548.0,200.5 C549.5,204.1 550.1,204.4 552.0,208.0 C553.9,211.6 557.0,221.1 559.3,222.0 C561.6,222.9 563.5,215.4 566.0,213.3 C568.5,211.2 571.1,210.7 574.0,209.5 C576.9,208.3 580.6,207.0 583.3,206.0 C586.0,205.0 588.0,204.3 590.0,203.3 C592.0,202.3 593.3,201.6 595.3,200.0 C597.3,198.4 599.7,196.5 602.0,194.0 C604.3,191.5 606.9,187.9 609.0,185.0 C611.1,182.1 613.1,178.4 614.8,176.3 C616.5,174.2 617.7,173.2 619.2,172.3 C620.7,171.4 622.1,171.5 623.7,170.8 C625.3,170.1 628.1,168.6 629.0,168.1" fill="none" stroke="#008000" stroke-width="1"/><rect x="18" y="413" width="706" height="1" fill="#333"/><rect x="44" y="413" width="1" height="9.5" fill="#333"/><rect x="110" y="413" width="1" height="9.5" fill="#333"/><rect x="166" y="413" width="1" height="9.5" fill="#333"/><rect x="225" y="413" width="1" height="9.5" fill="#333"/><rect x="288" y="413" width="1" height="9.5" fill="#333"/><rect x="355" y="413" width="1" height="9.5" fill="#333"/><rect x="410" y="413" width="1" height="9.5" fill="#333"/><rect x="465" y="413" width="1" height="9.5" fill="#333"/><rect x="532" y="413" width="1" height="9.5" fill="#333"/><rect x="593" y="413" width="1" height="9.5" fill="#333"/><rect x="653" y="413" width="1" height="9.5" fill="#333"/><rect x="719" y="413" width="1" height="9.5" fill="#333"/><text x="723.5" y="113" font-size="13" fill="#333" text-anchor="end" font-family="Liberation Sans, sans-serif">1600</text><text x="723.5" y="172" font-size="13" fill="#333" text-anchor="end" font-family="Liberation Sans, sans-serif">1500</text><text x="723.5" y="232" font-size="13" fill="#333" text-anchor="end" font-family="Liberation Sans, sans-serif">1400</text><text x="723.5" y="292" font-size="13" fill="#333" text-anchor="end" font-family="Liberation Sans, sans-serif">1300</text><text x="723.5" y="351" font-size="13" fill="#333" text-anchor="end" font-family="Liberation Sans, sans-serif">1200</text><text x="723.5" y="411" font-size="13" fill="#333" text-anchor="end" font-family="Liberation Sans, sans-serif">1100</text><text x="44.5" y="439.6" font-size="13" fill="#333" text-anchor="middle" font-family="Liberation Sans, sans-serif">08-01</text><text x="110.5" y="439.6" font-size="13" fill="#333" text-anchor="middle" font-family="Liberation Sans, sans-serif">09-01</text><text x="166.5" y="439.6" font-size="13" fill="#333" text-anchor="middle" font-family="Liberation Sans, sans-serif">10-01</text><text x="225.5" y="439.6" font-size="13" fill="#333" text-anchor="middle" font-family="Liberation Sans, sans-serif">11-01</text><text x="288.5" y="439.6" font-size="13" fill="#333" text-anchor="middle" font-family="Liberation Sans, sans-serif">12-01</text><text x="355.5" y="439.6" font-size="13" fill="#333" text-anchor="middle" font-family="Liberation Sans, sans-serif">01-01</text><text x="410.5" y="439.6" font-size="13" fill="#333" text-anchor="middle" font-family="Liberation Sans, sans-serif">02-01</text><text x="465.5" y="439.6" font-size="13" fill="#333" text-anchor="middle" font-family="Liberation Sans, sans-serif">03-01</text><text x="532.5" y="439.6" font-size="13" fill="#333" text-anchor="middle" font-family="Liberation Sans, sans-serif">04-01</text><text x="593.5" y="439.6" font-size="13" fill="#333" text-anchor="middle" font-family="Liberation Sans, sans-serif">05-01</text><text x="653.5" y="439.6" font-size="13" fill="#333" text-anchor="middle" font-family="Liberation Sans, sans-serif">06-01</text><text x="707.5" y="439.6" font-size="13" fill="#333" text-anchor="middle" font-family="Liberation Sans, sans-serif">07-01</text><rect x="631" y="165" width="1" height="1" fill="#444"/><rect x="632" y="165" width="1" height="1" fill="#111"/><rect x="633" y="165" width="1" height="1" fill="#808080"/><rect x="635" y="165" width="1" height="1" fill="#444"/><rect x="636" y="165" width="1" height="1" fill="#111"/><rect x="637" y="165" width="1" height="1" fill="#808080"/><rect x="638" y="165" width="1" height="1" fill="#444"/><rect x="639" y="165" width="1" height="1" fill="#111"/><rect x="640" y="165" width="1" height="1" fill="#808080"/><rect x="641" y="165" width="1" height="1" fill="#444"/><rect x="642" y="165" width="1" height="1" fill="#111"/><rect x="643" y="165" width="1" height="1" fill="#808080"/><rect x="644" y="165" width="1" height="1" fill="#444"/><rect x="645" y="165" width="1" height="1" fill="#111"/><rect x="646" y="165" width="1" height="1" fill="#808080"/><rect x="647" y="165" width="1" height="1" fill="#444"/><rect x="648" y="165" width="1" height="1" fill="#111"/><rect x="649" y="165" width="1" height="1" fill="#808080"/><rect x="650" y="165" width="1" height="1" fill="#444"/><rect x="651" y="165" width="1" height="1" fill="#111"/><rect x="652" y="165" width="1" height="1" fill="#808080"/><rect x="653" y="165" width="1" height="1" fill="#444"/><rect x="654" y="165" width="1" height="1" fill="#111"/><rect x="655" y="165" width="1" height="1" fill="#808080"/><rect x="656" y="165" width="1" height="1" fill="#444"/><rect x="657" y="165" width="1" height="1" fill="#111"/><rect x="658" y="165" width="1" height="1" fill="#808080"/><rect x="659" y="165" width="1" height="1" fill="#444"/><rect x="660" y="165" width="1" height="1" fill="#111"/><rect x="661" y="165" width="1" height="1" fill="#808080"/><rect x="662" y="165" width="1" height="1" fill="#444"/><rect x="663" y="165" width="1" height="1" fill="#111"/><rect x="664" y="165" width="1" height="1" fill="#808080"/><rect x="665" y="165" width="1" height="1" fill="#444"/><rect x="666" y="165" width="1" height="1" fill="#111"/><rect x="667" y="165" width="1" height="1" fill="#808080"/><rect x="668" y="165" width="1" height="1" fill="#444"/><rect x="669" y="165" width="1" height="1" fill="#111"/><rect x="670" y="165" width="1" height="1" fill="#808080"/><rect x="671" y="165" width="1" height="1" fill="#444"/><rect x="672" y="165" width="1" height="1" fill="#111"/><rect x="673" y="165" width="1" height="1" fill="#808080"/><rect x="674" y="165" width="1" height="1" fill="#444"/><rect x="675" y="165" width="1" height="1" fill="#111"/><rect x="676" y="165" width="1" height="1" fill="#808080"/><rect x="677" y="165" width="1" height="1" fill="#444"/><rect x="678" y="165" width="1" height="1" fill="#111"/><rect x="679" y="165" width="1" height="1" fill="#808080"/><rect x="681" y="165" width="1" height="1" fill="#444"/><rect x="682" y="165" width="1" height="1" fill="#111"/><rect x="683" y="165" width="1" height="1" fill="#808080"/><rect x="684" y="165" width="1" height="1" fill="#444"/><rect x="685" y="165" width="1" height="1" fill="#111"/><rect x="686" y="165" width="1" height="1" fill="#808080"/><rect x="687" y="165" width="1" height="1" fill="#444"/><rect x="688" y="165" width="1" height="1" fill="#111"/><rect x="689" y="165" width="1" height="1" fill="#808080"/><rect x="690" y="165" width="1" height="1" fill="#444"/><rect x="691" y="165" width="1" height="1" fill="#111"/><rect x="692" y="165" width="1" height="1" fill="#808080"/><rect x="693" y="165" width="1" height="1" fill="#444"/><rect x="694" y="165" width="1" height="1" fill="#111"/><rect x="695" y="165" width="1" height="1" fill="#808080"/><rect x="696" y="165" width="1" height="1" fill="#444"/><rect x="697" y="165" width="1" height="1" fill="#111"/><rect x="698" y="165" width="1" height="1" fill="#808080"/><rect x="699" y="165" width="1" height="1" fill="#444"/><rect x="700" y="165" width="1" height="1" fill="#111"/><rect x="701" y="165" width="1" height="1" fill="#808080"/><rect x="702" y="165" width="1" height="1" fill="#444"/><rect x="703" y="165" width="1" height="1" fill="#111"/><rect x="704" y="165" width="1" height="1" fill="#808080"/><rect x="705" y="165" width="1" height="1" fill="#444"/><rect x="706" y="165" width="1" height="1" fill="#111"/><rect x="707" y="165" width="1" height="1" fill="#808080"/><rect x="708" y="165" width="1" height="1" fill="#444"/><rect x="709" y="165" width="1" height="1" fill="#111"/><rect x="710" y="165" width="1" height="1" fill="#808080"/><rect x="711" y="165" width="1" height="1" fill="#444"/><rect x="712" y="165" width="1" height="1" fill="#111"/><rect x="713" y="165" width="1" height="1" fill="#808080"/><rect x="714" y="165" width="1" height="1" fill="#444"/><rect x="715" y="165" width="1" height="1" fill="#111"/><rect x="716" y="165" width="1" height="1" fill="#808080"/><rect x="717" y="165" width="1" height="1" fill="#444"/><rect x="718" y="165" width="1" height="1" fill="#111"/><rect x="719" y="165" width="1" height="1" fill="#808080"/><rect x="720" y="165" width="1" height="1" fill="#444"/><rect x="721" y="165" width="1" height="1" fill="#111"/><rect x="722" y="165" width="1" height="1" fill="#808080"/><rect x="723" y="165" width="1" height="1" fill="#444"/><rect x="724" y="165" width="1" height="1" fill="#111"/></svg>
<span class="tg c" style="left:191.2px">长</span><span class="tg c" style="left:210.0px">三</span><span class="tg c" style="left:231.7px">角</span><span class="tg c" style="left:249.7px">一</span><span class="tg c" style="left:271.3px">体</span><span class="tg c" style="left:291.2px">化</span><span class="tg c" style="left:309.8px">概</span><span class="tg c" style="left:330.5px">念</span><span class="tg l" style="left:349.1px">(</span><span class="tg l" style="left:358.4px">8</span><span class="tg l" style="left:370.7px">5</span><span class="tg l" style="left:383.2px">8</span><span class="tg l" style="left:394.7px">5</span><span class="tg l" style="left:407.1px">0</span><span class="tg l" style="left:419.7px">4</span><span class="tg l" style="left:431.3px">)</span><span class="tg c" style="left:440.9px">赢</span><span class="tg c" style="left:459.2px">家</span><span class="tg c" style="left:478.5px">乾</span><span class="tg c" style="left:498.7px">坤</span><span class="tg l" style="left:518.9px">K</span><span class="tg c" style="left:534.4px">线</span>
</body></html>
